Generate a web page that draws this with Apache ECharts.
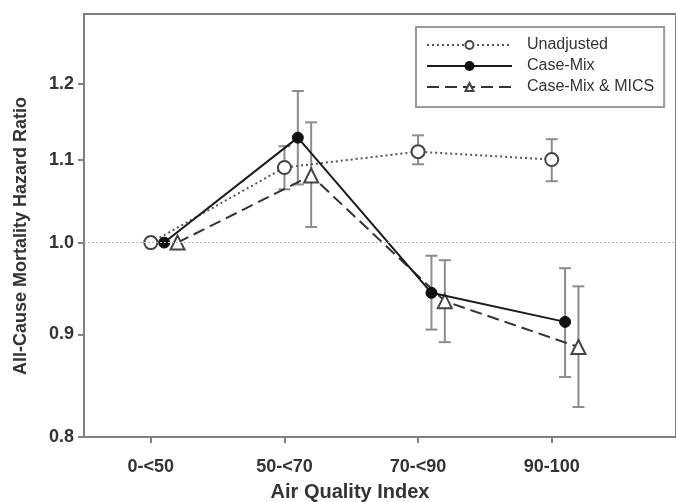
<!DOCTYPE html>
<html>
<head>
<meta charset="utf-8">
<script src="https://cdn.jsdelivr.net/npm/echarts@6/dist/echarts.min.js"></script>
<style>html,body{margin:0;padding:0;background:#fff;}#c{width:676px;height:502px;}</style>
</head>
<body>
<div id="c"></div>
<script>
const categories = ['0-<50', '50-<70', '70-<90', '90-100'];
const yTicks = [0.8, 0.9, 1.0, 1.1, 1.2];

const unadjusted     = [1.00, 1.090, 1.110, 1.100];
const unadjustedLow  = [null, 1.063, 1.094, 1.073];
const unadjustedHigh = [null, 1.117, 1.131, 1.126];

const caseMix     = [1.00, 1.128, 0.944, 0.913];
const caseMixLow  = [null, 1.069, 0.905, 0.857];
const caseMixHigh = [null, 1.190, 0.985, 0.971];

const mics     = [1.00, 1.080, 0.935, 0.887];
const micsLow  = [null, 1.018, 0.892, 0.828];
const micsHigh = [null, 1.148, 0.980, 0.951];

const seriesNames = ['Unadjusted', 'Case-Mix', 'Case-Mix & MICS'];
const xTitle = 'Air Quality Index';
const yTitle = 'All-Cause Mortality Hazard Ratio';
const dodge = [0, 0.1, 0.2];

const L = Math.log;
function pts(vals, off) { return vals.map((v, i) => [i + off, L(v)]); }
function bars(lo, hi, off) {
  const out = [];
  lo.forEach((v, i) => { if (v != null) out.push([i + off, L(v), L(hi[i])]); });
  return out;
}
const FONT = '"Liberation Sans", Arial, sans-serif';
const AXIS = '#808080';
const BAR = '#8c8c8c';
const TXT = '#333';

function errRender(params, api) {
  const x = api.value(0);
  const p1 = api.coord([x, api.value(1)]);
  const p2 = api.coord([x, api.value(2)]);
  const hw = 6;
  const st = { stroke: BAR, lineWidth: 2 };
  return {
    type: 'group',
    children: [
      { type: 'line', shape: { x1: p1[0], y1: p1[1], x2: p2[0], y2: p2[1] }, style: st },
      { type: 'line', shape: { x1: p1[0] - hw, y1: p1[1], x2: p1[0] + hw, y2: p1[1] }, style: st },
      { type: 'line', shape: { x1: p2[0] - hw, y1: p2[1], x2: p2[0] + hw, y2: p2[1] }, style: st }
    ]
  };
}

const chart = echarts.init(document.getElementById('c'), null, { renderer: 'canvas' });
chart.setOption({
  animation: false,
  backgroundColor: '#fff',
  textStyle: { fontFamily: FONT },
  grid: { left: 84, top: 14, right: -2, bottom: 65, show: true, borderColor: AXIS, borderWidth: 2 },
  legend: {
    orient: 'vertical',
    left: 416, top: 27,
    padding: [10, 10, 12, 10],
    itemGap: 5,
    itemWidth: 85, itemHeight: 10,
    borderColor: '#9a9a9a', borderWidth: 2,
    data: seriesNames,
    textStyle: { fontFamily: FONT, fontSize: 16, color: TXT, padding: [0, 0, 0, 10] }
  },
  xAxis: {
    type: 'value', min: -0.5, max: 3.93,
    axisLine: { onZero: false, lineStyle: { color: AXIS, width: 2 } },
    axisTick: { customValues: [0, 1, 2, 3], length: 6, lineStyle: { color: AXIS, width: 2 } },
    axisLabel: {
      customValues: [0, 1, 2, 3],
      formatter: v => categories[Math.round(v)],
      margin: 21, fontSize: 18, fontWeight: 'bold', color: TXT, fontFamily: FONT
    },
    splitLine: { show: false }
  },
  yAxis: {
    type: 'value', min: L(0.8), max: L(1.3),
    axisLine: { onZero: false, lineStyle: { color: AXIS, width: 2 } },
    axisTick: { customValues: yTicks.map(L), length: 6, lineStyle: { color: AXIS, width: 2 } },
    axisLabel: {
      customValues: yTicks.map(L),
      formatter: v => Math.exp(v).toFixed(1),
      margin: 10, fontSize: 18, fontWeight: 'bold', color: TXT, fontFamily: FONT
    },
    splitLine: { show: false }
  },
  graphic: [
    {
      type: 'text', x: 350, y: 492,
      style: {
        text: xTitle, textAlign: 'center', textVerticalAlign: 'middle',
        font: 'bold 20px "Liberation Sans", Arial, sans-serif', fill: TXT
      }
    },
    {
      type: 'text', x: 21, y: 236, rotation: Math.PI / 2,
      style: {
        text: yTitle, textAlign: 'center', textVerticalAlign: 'middle',
        font: 'bold 18px "Liberation Sans", Arial, sans-serif', fill: TXT
      }
    }
  ],
  series: [
    { type: 'custom', name: 'errU', renderItem: errRender, data: bars(unadjustedLow, unadjustedHigh, dodge[0]), encode: { x: 0, y: [1, 2] }, z: 1, silent: true },
    { type: 'custom', name: 'errC', renderItem: errRender, data: bars(caseMixLow, caseMixHigh, dodge[1]), encode: { x: 0, y: [1, 2] }, z: 1, silent: true },
    { type: 'custom', name: 'errM', renderItem: errRender, data: bars(micsLow, micsHigh, dodge[2]), encode: { x: 0, y: [1, 2] }, z: 1, silent: true },
    {
      type: 'line', name: seriesNames[0], data: pts(unadjusted, dodge[0]), z: 3,
      symbol: 'circle', symbolSize: 13,
      lineStyle: { color: '#555', width: 2, type: [2, 3] },
      itemStyle: { color: '#fff', borderColor: '#444', borderWidth: 2 },
      markLine: {
        silent: true, symbol: 'none', label: { show: false },
        lineStyle: { color: '#b5b5b5', width: 1, type: [2, 2] },
        data: [{ yAxis: 0 }]
      }
    },
    {
      type: 'line', name: seriesNames[1], data: pts(caseMix, dodge[1]), z: 4,
      symbol: 'circle', symbolSize: 11,
      lineStyle: { color: '#1a1a1a', width: 2, type: 'solid' },
      itemStyle: { color: '#111', borderColor: '#111', borderWidth: 1 }
    },
    {
      type: 'line', name: seriesNames[2], data: pts(mics, dodge[2]), z: 3,
      symbol: 'triangle', symbolSize: 14,
      lineStyle: { color: '#333', width: 2, type: [12, 6] },
      itemStyle: { color: '#fff', borderColor: '#444', borderWidth: 2 }
    }
  ]
});
</script>
</body>
</html>
